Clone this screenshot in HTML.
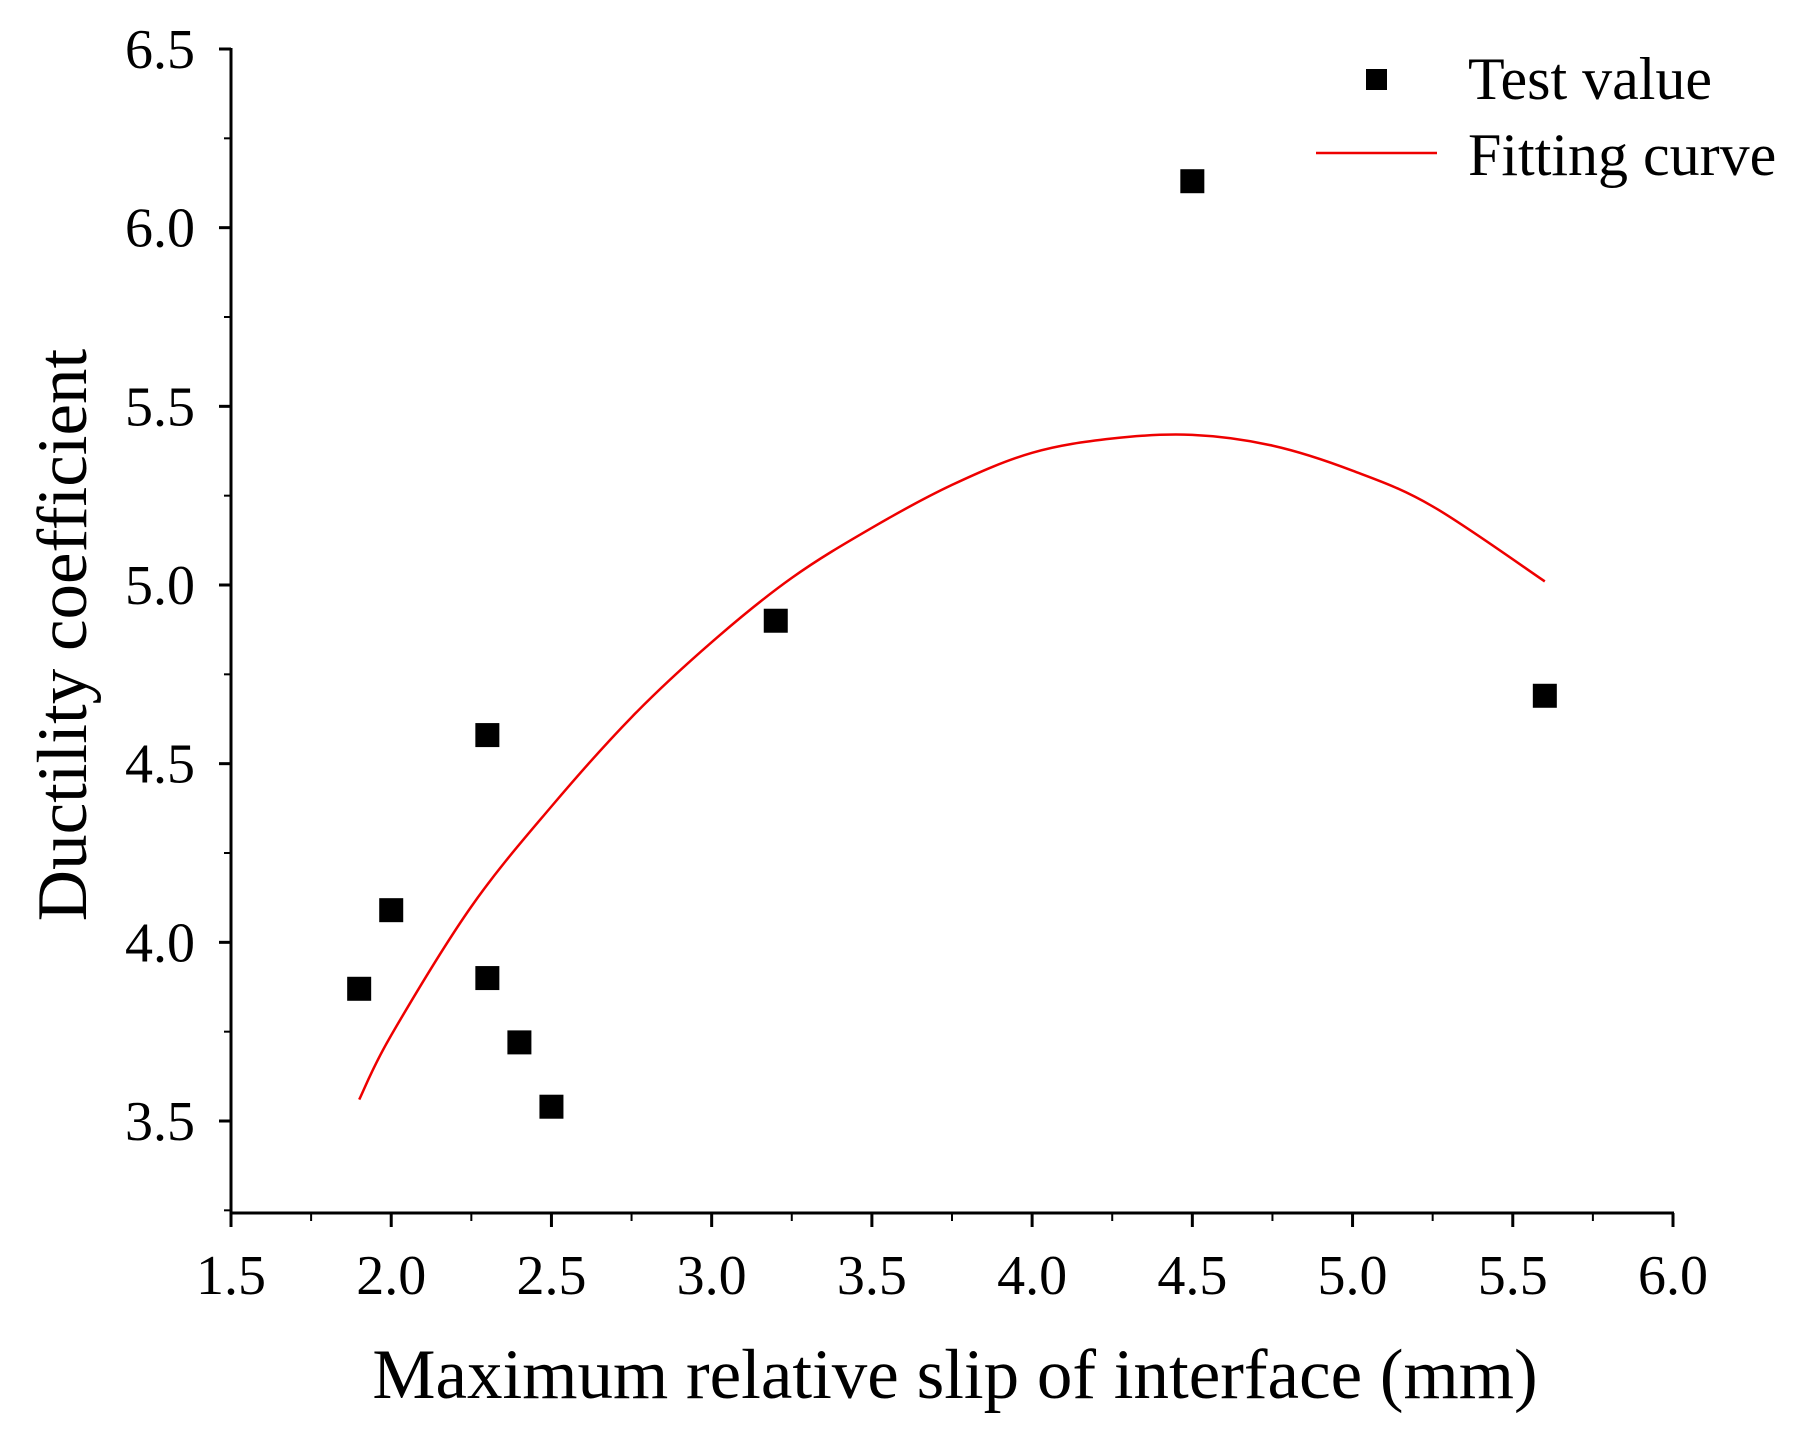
<!DOCTYPE html>
<html><head><meta charset="utf-8"><style>
body{margin:0;background:#fff}
svg text{font-family:"Liberation Serif",serif;fill:#000}
</style></head><body>
<svg id="chart" width="1817" height="1450" viewBox="0 0 1817 1450" xmlns="http://www.w3.org/2000/svg">
<g id="axes"></g><g id="series"></g>
<g>
<rect x="1366" y="69" width="21" height="21" fill="#000"/>
<text x="1468" y="99" font-size="60">Test value</text>
<line x1="1316" y1="153" x2="1437" y2="153" stroke="#e00" stroke-width="2.5"/>
<text x="1468" y="175" font-size="60">Fitting curve</text>
</g>
<text x="955" y="1398" font-size="71" text-anchor="middle">Maximum relative slip of interface (mm)</text>
<text transform="translate(86,635) rotate(-90)" font-size="71" text-anchor="middle">Ductility coefficient</text>
</svg>
<script>
const xTicks=[1.5,2.0,2.5,3.0,3.5,4.0,4.5,5.0,5.5,6.0];
const xTickLabels=["1.5","2.0","2.5","3.0","3.5","4.0","4.5","5.0","5.5","6.0"];
const yTicks=[3.5,4.0,4.5,5.0,5.5,6.0,6.5];
const yTickLabels=["3.5","4.0","4.5","5.0","5.5","6.0","6.5"];
const testX=[1.9,2.0,2.3,2.3,2.4,2.5,3.2,4.5,5.6];
const testY=[3.87,4.09,4.58,3.90,3.72,3.54,4.90,6.13,4.69];
const fitX=[1.9,2.0,2.25,2.5,2.75,3.0,3.25,3.5,3.75,4.0,4.25,4.5,4.75,5.0,5.25,5.6];
const fitY=[3.56,3.74,4.10,4.38,4.63,4.84,5.02,5.16,5.28,5.37,5.41,5.42,5.39,5.32,5.22,5.01];
const X0=231,X1=1673,Y35=1121,Y65=49;
const sx=v=>X0+(v-1.5)*(X1-X0)/4.5;
const sy=v=>Y35-(v-3.5)*(Y35-Y65)/3;
const NS="http://www.w3.org/2000/svg";
const axes=document.getElementById('axes'),ser=document.getElementById('series');
function mk(tag,attrs,parent){const e=document.createElementNS(NS,tag);for(const k in attrs)e.setAttribute(k,attrs[k]);parent.appendChild(e);return e;}
const yBot=1213;
let l=mk('line',{x1:X0,y1:Y65-1,x2:X0,y2:yBot,stroke:'#000','stroke-width':3},axes);


l=mk('line',{x1:X0-1,y1:yBot,x2:X1+1,y2:yBot,stroke:'#000','stroke-width':3},axes);


xTicks.forEach((v,i)=>{
  const t=mk('line',{x1:sx(v),y1:yBot,x2:sx(v),y2:yBot+14,stroke:'#000','stroke-width':3},axes);
  
  
  if(i<xTicks.length-1){const m=mk('line',{x1:sx(v+0.25),y1:yBot,x2:sx(v+0.25),y2:yBot+8,stroke:'#000','stroke-width':2},axes);
  
  }
  const tx=mk('text',{x:sx(v),y:1294,'font-size':56,'text-anchor':'middle'},axes);
  tx.textContent=xTickLabels[i];
  
  
});
yTicks.forEach((v,i)=>{
  const t=mk('line',{x1:X0-12,y1:sy(v),x2:X0,y2:sy(v),stroke:'#000','stroke-width':3},axes);
  
  
  const m=mk('line',{x1:X0-7,y1:sy(v-0.25),x2:X0,y2:sy(v-0.25),stroke:'#000','stroke-width':2},axes);
  
  
  const tx=mk('text',{x:195,y:sy(v)+19,'font-size':56,'text-anchor':'end'},axes);
  tx.textContent=yTickLabels[i];
  
  
});
const pts=fitX.map((x,i)=>[sx(x),sy(fitY[i])]);
let d='M'+pts[0][0].toFixed(1)+','+pts[0][1].toFixed(1);
for(let i=0;i<pts.length-1;i++){
  const p0=pts[Math.max(0,i-1)],p1=pts[i],p2=pts[i+1],p3=pts[Math.min(pts.length-1,i+2)];
  const c1=[p1[0]+(p2[0]-p0[0])/6,p1[1]+(p2[1]-p0[1])/6],c2=[p2[0]-(p3[0]-p1[0])/6,p2[1]-(p3[1]-p1[1])/6];
  d+='C'+c1.map(v=>v.toFixed(1)).join(',')+' '+c2.map(v=>v.toFixed(1)).join(',')+' '+p2.map(v=>v.toFixed(1)).join(',');
}
const p=mk('path',{d:d,fill:'none',stroke:'#e00','stroke-width':2.5,'stroke-linejoin':'round'},ser);


testX.forEach((x,i)=>{
  const r=mk('rect',{x:sx(x)-12,y:sy(testY[i])-12,width:24,height:24,fill:'#000'},ser);
  
  
});
</script>
</body></html>
